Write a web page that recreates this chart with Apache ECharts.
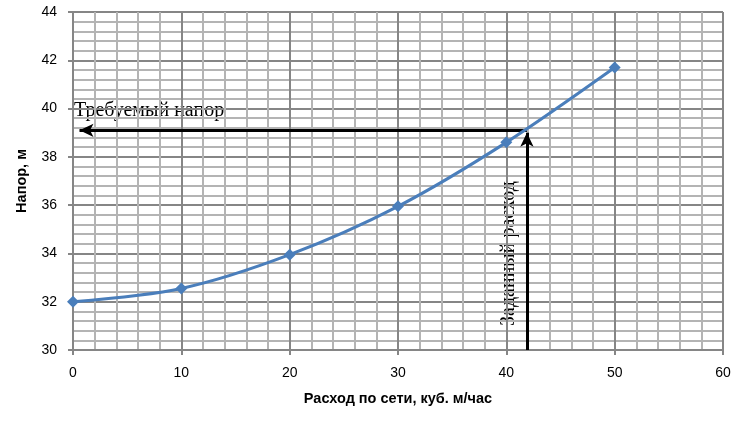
<!DOCTYPE html>
<html><head><meta charset="utf-8">
<script src="https://cdn.jsdelivr.net/npm/echarts@6/dist/echarts.min.js"></script>
<style>html,body{margin:0;padding:0;background:#fff}#c{width:748px;height:424px}</style>
</head><body><div id="c"></div>
<script>
const flow = [0, 10, 20, 30, 40, 50];
const head = [32, 32.55, 33.95, 35.95, 38.6, 41.7];
const requiredHead = 39.1;
const givenFlow = 41.9;
const arrowEndFlow = 0.6;
const xTicks = [0, 60, 10];
const yTicks = [30, 44, 2];
const labelRequired = 'Требуемый напор';
const labelGiven = 'Заданный расход';
const xName = 'Расход по сети, куб. м/час';
const yName = 'Напор, м';

const chart = echarts.init(document.getElementById('c'), null, {renderer: 'canvas'});
const axisLine = {show: true, lineStyle: {color: '#868686', width: 2}};
const tickStyle = {show: true, length: 5, lineStyle: {color: '#868686', width: 2}};
const lblFont = {color: '#000', fontFamily: 'Liberation Sans, Arial', fontSize: 14};
const nameFont = {fontWeight: 'bold', fontSize: 14.5, color: '#000', fontFamily: 'Liberation Sans, Arial'};
chart.setOption({
  animation: false,
  grid: {left: 73, right: 25, top: 12, bottom: 74, containLabel: false},
  xAxis: {
    type: 'value', min: xTicks[0], max: xTicks[1], interval: xTicks[2],
    name: xName, nameLocation: 'middle', nameGap: 41, nameTextStyle: nameFont,
    axisLine: axisLine, axisTick: tickStyle,
    axisLabel: Object.assign({margin: 16}, lblFont),
    splitLine: {show: true, lineStyle: {color: '#868686', width: 2}},
    minorTick: {show: true, splitNumber: 5, length: 0},
    minorSplitLine: {show: true, lineStyle: {color: '#b4b4b4', width: 2}}
  },
  yAxis: {
    type: 'value', min: yTicks[0], max: yTicks[1], interval: yTicks[2],
    name: yName, nameLocation: 'middle', nameGap: 44, nameRotate: 90, nameTextStyle: nameFont,
    axisLine: axisLine, axisTick: tickStyle,
    axisLabel: Object.assign({margin: 16}, lblFont),
    splitLine: {show: true, lineStyle: {color: '#868686', width: 2}},
    minorTick: {show: true, splitNumber: 5, length: 0},
    minorSplitLine: {show: true, lineStyle: {color: '#b4b4b4', width: 2}}
  },
  series: [
    {
      type: 'line', data: flow.map((x, i) => [x, head[i]]), smooth: 0.3,
      symbol: 'diamond', symbolSize: 12,
      lineStyle: {color: '#4a7ebb', width: 3},
      itemStyle: {color: '#4a7ebb'}, z: 5,
      markLine: {silent: true, symbol: ['none', 'arrow'], symbolSize: [10, 14], z: 3,
        lineStyle: {color: '#000', width: 3, type: 'solid'}, label: {show: false},
        emphasis: {disabled: true},
        data: [[{coord: [givenFlow, requiredHead]}, {coord: [arrowEndFlow, requiredHead]}],
               [{coord: [givenFlow, yTicks[0]]}, {coord: [givenFlow, requiredHead - 0.1]}]]}
    }
  ],
  graphic: [
    {type: 'text', left: 74, top: 101, style: {text: labelRequired, font: '20px "Liberation Serif", serif', fill: '#000'}},
    {type: 'text', x: 499, y: 326, rotation: Math.PI / 2, style: {text: labelGiven, font: '20px "Liberation Serif", serif', fill: '#000'}}
  ]
});
</script></body></html>
